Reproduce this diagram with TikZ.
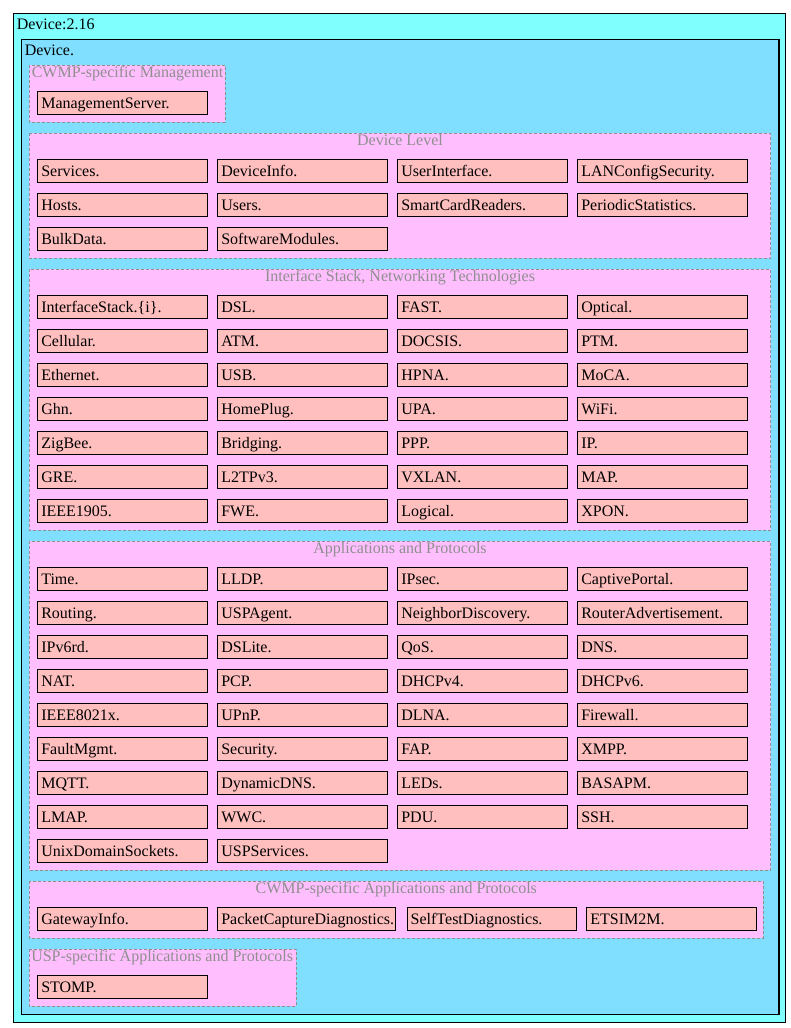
\documentclass[tikz,border=0pt]{standalone}
\usepackage{fontspec}
\setmainfont{Liberation Serif}
\usetikzlibrary{positioning}
\definecolor{outercyan}{HTML}{80FFFF}
\definecolor{devblue}{HTML}{80DFFF}
\definecolor{grppink}{HTML}{FFBFFF}
\definecolor{objpink}{HTML}{FFBFBF}
\definecolor{grplabel}{HTML}{8F8F8F}
\begin{document}
\begin{tikzpicture}[x=0.75pt, y=-0.75pt,
  every node/.style={font=\fontsize{12}{14}\selectfont, inner sep=0pt},
  frame/.style={draw=black, line width=0.9pt, fill=#1},
  grpbox/.style={draw=grplabel, dash pattern=on 2.25pt off 1.5pt,
                 line width=0.6pt, fill=grppink},
  grplbl/.style={text=grplabel, anchor=base},
  objbox/.style={draw, line width=0.8pt, fill=objpink, anchor=north west,
                 text width=#1, inner xsep=2.6pt, inner ysep=0pt,
                 text height=12.75pt, text depth=4.5pt, align=left},
  objbox/.default=121.9pt]
\useasboundingbox (0,0) rectangle (790,1028);

%% Outer frames
\path[frame=outercyan] (13.3,13.3) rectangle (785.7,1022.3);
\node[anchor=base west] (model) at (16.5,29.5) {Device:2.16};
\path[frame=devblue] (21.3,39.3) rectangle (779,1014.3);
\node[anchor=base west] (device) at (24.5,55.5) {Device.};

%% Groups
\path[grpbox] (29.3,65.3)  rectangle (225.3,122.3);
\path[grpbox] (29.3,133.3) rectangle (770.7,258.3);
\path[grpbox] (29.3,269.3) rectangle (770.7,530.3);
\path[grpbox] (29.3,541.3) rectangle (770.7,870.3);
\path[grpbox] (29.3,881.3) rectangle (763.3,938.3);
\path[grpbox] (29.3,949.3) rectangle (296.3,1006.3);

\node[grplbl, anchor=base west] (lmgmt) at (31.5,77.5) {CWMP-specific Management};
\node[grplbl] (ldev)   at (400,145.8)   {Device Level};
\node[grplbl] (lifs)   at (400,281.8)   {Interface Stack, Networking Technologies};
\node[grplbl] (lapps)  at (400,553.8)   {Applications and Protocols};
\node[grplbl] (lcwmp)  at (396.3,893.8) {CWMP-specific Applications and Protocols};
\node[grplbl, anchor=base west] (lusp) at (31,961.5) {USP-specific Applications and Protocols};

%% CWMP-specific Management
\node[objbox] (mgmt0) at (37.3,91.3) {ManagementServer.};

%% Device Level
\foreach \txt [count=\k from 0] in {Services.,DeviceInfo.,UserInterface.,
    LANConfigSecurity.,Hosts.,Users.,SmartCardReaders.,PeriodicStatistics.,
    BulkData.,SoftwareModules.}{
  \pgfmathtruncatemacro\c{mod(\k,4)}
  \pgfmathtruncatemacro\r{int(\k/4)}
  \node[objbox] (dev\k) at ({37.3+180*\c},{159.3+34*\r}) {\txt};
}

%% Interface Stack, Networking Technologies
\foreach \txt [count=\k from 0] in {InterfaceStack.\{i\}.,DSL.,FAST.,Optical.,
    Cellular.,ATM.,DOCSIS.,PTM.,Ethernet.,USB.,HPNA.,MoCA.,Ghn.,HomePlug.,
    UPA.,WiFi.,ZigBee.,Bridging.,PPP.,IP.,GRE.,L2TPv3.,VXLAN.,MAP.,
    IEEE1905.,FWE.,Logical.,XPON.}{
  \pgfmathtruncatemacro\c{mod(\k,4)}
  \pgfmathtruncatemacro\r{int(\k/4)}
  \node[objbox] (ifs\k) at ({37.3+180*\c},{295.3+34*\r}) {\txt};
}

%% Applications and Protocols
\foreach \txt [count=\k from 0] in {Time.,LLDP.,IPsec.,CaptivePortal.,
    Routing.,USPAgent.,NeighborDiscovery.,RouterAdvertisement.,IPv6rd.,
    DSLite.,QoS.,DNS.,NAT.,PCP.,DHCPv4.,DHCPv6.,IEEE8021x.,UPnP.,DLNA.,
    Firewall.,FaultMgmt.,Security.,FAP.,XMPP.,MQTT.,DynamicDNS.,LEDs.,
    BASAPM.,LMAP.,WWC.,PDU.,SSH.,UnixDomainSockets.,USPServices.}{
  \pgfmathtruncatemacro\c{mod(\k,4)}
  \pgfmathtruncatemacro\r{int(\k/4)}
  \node[objbox] (app\k) at ({37.3+180*\c},{567.3+34*\r}) {\txt};
}

%% CWMP-specific Applications and Protocols
\node[objbox]         (cwmp0) at (37.3,907.3)  {GatewayInfo.};
\node[objbox=128.1pt] (cwmp1) at (217.3,907.3) {PacketCaptureDiagnostics.};
\node[objbox]         (cwmp2) at (406.7,907.3) {SelfTestDiagnostics.};
\node[objbox]         (cwmp3) at (586.3,907.3) {ETSIM2M.};

%% USP-specific Applications and Protocols
\node[objbox] (usp0) at (37.3,975.3) {STOMP.};
\end{tikzpicture}
\end{document}
